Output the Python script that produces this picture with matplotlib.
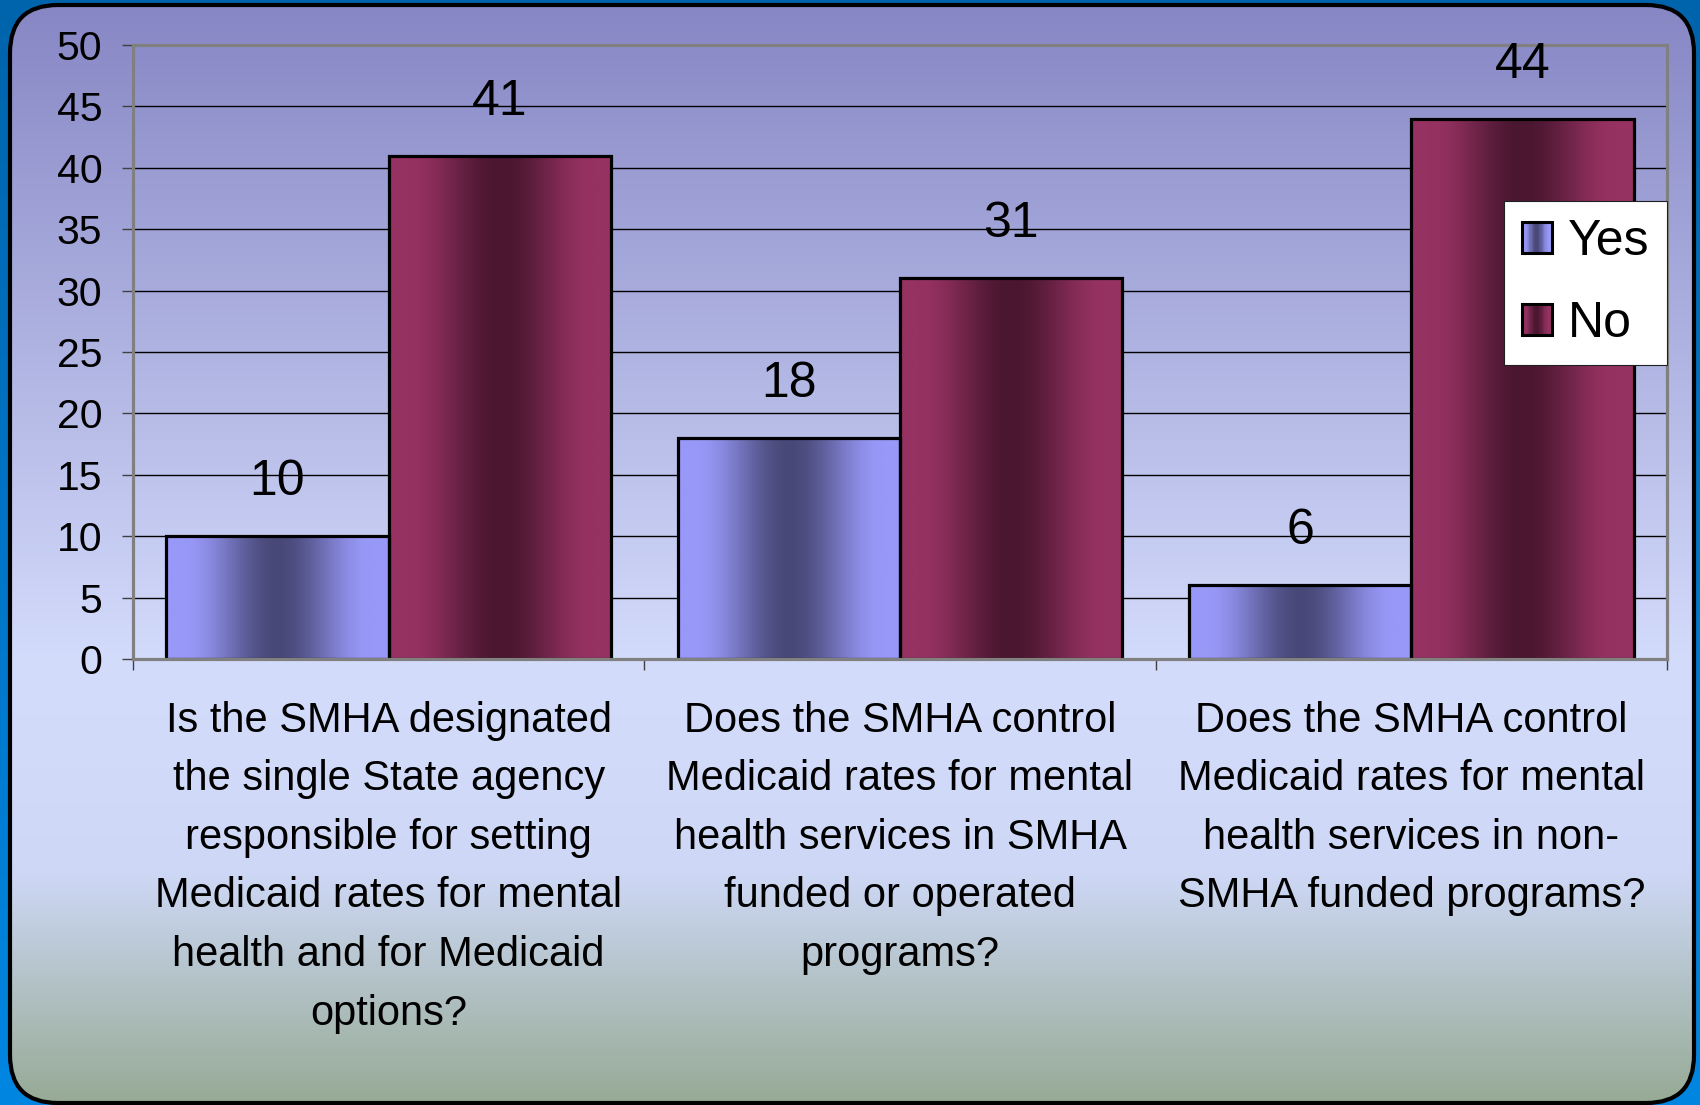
import numpy as np
import matplotlib
matplotlib.use("Agg")
import matplotlib.pyplot as plt
from matplotlib.patches import Rectangle, FancyBboxPatch
from matplotlib.legend_handler import HandlerBase

plt.rcParams['font.family'] = ['Liberation Sans', 'DejaVu Sans']

# ---- data ----
categories = [
    "Is the SMHA designated\nthe single State agency\nresponsible for setting\nMedicaid rates for mental\nhealth and for Medicaid\noptions?",
    "Does the SMHA control\nMedicaid rates for mental\nhealth services in SMHA\nfunded or operated\nprograms?",
    "Does the SMHA control\nMedicaid rates for mental\nhealth services in non-\nSMHA funded programs?",
]
series_names = ["Yes", "No"]
yes_values = [10, 18, 6]
no_values = [41, 31, 44]
yticks = [0, 5, 10, 15, 20, 25, 30, 35, 40, 45, 50]

# ---- styling ----
W, H = 1700, 1105
YES_LIGHT = np.array([152, 152, 248]) / 255
YES_DARK = np.array([72, 72, 120]) / 255
NO_LIGHT = np.array([150, 50, 98]) / 255
NO_DARK = np.array([74, 22, 48]) / 255


def profile(t):
    f = np.clip(1 - np.abs(t - 0.5) / 0.42, 0, 1)
    return f * f * (3 - 2 * f)


def grad_row(light, dark, n=256):
    t = np.linspace(0, 1, n)
    f = profile(t)[:, None]
    return (light[None, :] * (1 - f) + dark[None, :] * f)[None, :, :]


fig = plt.figure(figsize=(W / 100, H / 100), dpi=100)

# background
bg = fig.add_axes([0, 0, 1, 1], zorder=-10)
bg.set_xlim(0, W)
bg.set_ylim(H, 0)
bg.axis('off')
blue = np.array([[0, 100, 172], [0, 134, 226]]) / 255
bb = np.linspace(0, 1, 256)[:, None]
blue_img = (blue[0] * (1 - bb) + blue[1] * bb)[:, None, :]
bg.imshow(blue_img, extent=[0, W, H, 0], aspect='auto', interpolation='bilinear')

stops_pos = [0.0, 0.6, 0.79, 1.0]
stops_col = np.array([[134, 134, 196], [212, 220, 252], [206, 216, 246], [150, 170, 148]]) / 255
yy = np.linspace(0, 1, 512)
grad = np.stack([np.interp(yy, stops_pos, stops_col[:, k]) for k in range(3)], axis=1)[:, None, :]
panel = FancyBboxPatch((10, 5), 1684, 1098, boxstyle="round,pad=0,rounding_size=48",
                       facecolor='none', edgecolor='black', linewidth=3.0, zorder=3)
bg.add_patch(panel)
im = bg.imshow(grad, extent=[0, W, H, 0], aspect='auto', interpolation='bilinear', zorder=2)
im.set_clip_path(panel)

# main axes
ax = fig.add_axes([133 / W, 1 - 659 / H, (1667 - 133) / W, (659 - 45) / H])
ax.set_facecolor('none')

x = np.arange(len(categories))
bw = 0.435
bars_yes = ax.bar(x - bw / 2, yes_values, bw, facecolor='none', edgecolor='black', linewidth=2.3, zorder=3)
bars_no = ax.bar(x + bw / 2, no_values, bw, facecolor='none', edgecolor='black', linewidth=2.3, zorder=3)

for bars, light, dark in [(bars_yes, YES_LIGHT, YES_DARK), (bars_no, NO_LIGHT, NO_DARK)]:
    g = grad_row(light, dark)
    for b in bars:
        bx, by = b.get_x(), b.get_y()
        w, h = b.get_width(), b.get_height()
        ax.imshow(g, extent=[bx, bx + w, by, by + h], aspect='auto', interpolation='bilinear', zorder=2)
    for b in bars:
        ax.annotate(f"{int(b.get_height())}", (b.get_x() + b.get_width() / 2, b.get_height()),
                    xytext=(0, 29.5), textcoords='offset points', ha='center', va='baseline',
                    fontsize=36, color='black', zorder=5)

ax.set_xlim(-0.5, len(categories) - 0.5)
ax.set_ylim(0, 50)
ax.set_yticks(yticks)
ax.set_yticklabels([str(v) for v in yticks])
ax.yaxis.grid(True, color='black', linewidth=1.0, zorder=0.5)
ax.set_axisbelow(True)

ax.set_xticks(x)
ax.set_xticklabels(categories, fontsize=30, linespacing=1.6)
ax.set_xticks(np.arange(len(categories) + 1) - 0.5, minor=True)
ax.tick_params(axis='x', which='major', length=0, pad=30)
ax.tick_params(axis='x', which='minor', length=8, width=1.0, color='#404040', direction='out')
ax.tick_params(axis='y', length=8, width=1.0, color='#404040', labelsize=29.5, pad=14)

for s in ['left', 'right', 'top', 'bottom']:
    ax.spines[s].set_color('#808080')
    ax.spines[s].set_linewidth(2.3)
ax.spines['bottom'].set_zorder(4)


class GradHandler(HandlerBase):
    def __init__(self, light, dark):
        super().__init__()
        self.light, self.dark = light, dark

    def create_artists(self, legend, orig_handle, xdescent, ydescent, width, height, fontsize, trans):
        arts = []
        n = 24
        for k in range(n):
            t = (k + 0.5) / n
            f = profile(np.array([t]))[0]
            c = self.light * (1 - f) + self.dark * f
            arts.append(Rectangle((-xdescent + width * k / n, -ydescent), width / n * 1.05, height,
                                  facecolor=c, edgecolor='none', transform=trans))
        arts.append(Rectangle((-xdescent, -ydescent), width, height, facecolor='none',
                              edgecolor='black', linewidth=2.2, transform=trans))
        return arts


h_yes = Rectangle((0, 0), 1, 1)
h_no = Rectangle((0, 0), 1, 1)
leg = fig.legend([h_yes, h_no], series_names,
                 handler_map={h_yes: GradHandler(YES_LIGHT, YES_DARK), h_no: GradHandler(NO_LIGHT, NO_DARK)},
                 loc='upper right', bbox_to_anchor=(1667 / W, 1 - 201 / H), bbox_transform=fig.transFigure,
                 fontsize=36, frameon=True, fancybox=False, shadow=False, borderaxespad=0,
                 handlelength=0.6, handleheight=0.6, handletextpad=0.32, labelspacing=0.72,
                 borderpad=0.36)
leg.get_frame().set_facecolor('white')
leg.get_frame().set_edgecolor('#202020')
leg.get_frame().set_linewidth(0.8)
leg.get_frame().set_alpha(1)

fig.savefig("out.png", dpi=100)
